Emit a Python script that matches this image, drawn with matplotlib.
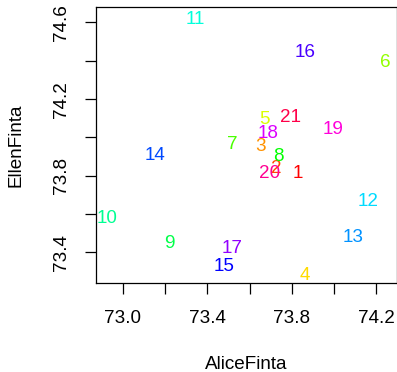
import matplotlib
matplotlib.use("Agg")
import matplotlib.pyplot as plt
from matplotlib.colors import hsv_to_rgb
import numpy as np

plt.rcParams['font.family'] = ['Liberation Sans', 'DejaVu Sans']

labels = [str(i) for i in range(1, 22)]
alice = [73.828, 73.727, 73.651, 73.860, 73.672, 74.243, 73.519, 73.736, 73.221, 72.927,
         73.344, 74.161, 74.092, 73.155, 73.480, 73.864, 73.519, 73.689, 73.994, 73.694, 73.796]
ellen = [73.824, 73.846, 73.963, 73.291, 74.103, 74.399, 73.975, 73.910, 73.455, 73.588,
         74.626, 73.673, 73.486, 73.918, 73.335, 74.452, 73.428, 74.033, 74.049, 73.822, 74.115]
xticks = [73.0, 73.2, 73.4, 73.6, 73.8, 74.0, 74.2]
xticklabels = ["73.0", "", "73.4", "", "73.8", "", "74.2"]
yticks = [73.4, 73.6, 73.8, 74.0, 74.2, 74.4, 74.6]
yticklabels = ["73.4", "", "73.8", "", "74.2", "", "74.6"]

n = len(labels)
colors = [hsv_to_rgb((i / n, 1.0, 1.0)) for i in range(n)]

W, H = 397, 372
fig = plt.figure(figsize=(W / 100, H / 100), dpi=100)
ax = fig.add_axes([96 / W, 1 - 283.3 / H, (396.7 - 96) / W, (283.3 - 7.3) / H])

FS = 13.6
for xi, yi, lab, c in zip(alice, ellen, labels, colors):
    ax.text(xi, yi, lab, color=c, fontsize=FS, ha='center', va='center_baseline')

def rlim(v):
    lo, hi = min(v), max(v)
    d = (hi - lo) * 0.04
    return lo - d, hi + d

ax.set_xlim(*rlim(alice))
ax.set_ylim(*rlim(ellen))
ax.set_xticks(xticks)
ax.set_xticklabels(xticklabels, fontsize=FS)
ax.set_yticks(yticks)
ax.set_yticklabels(yticklabels, fontsize=FS, rotation=90, va='center')
ax.tick_params(axis='both', length=8, width=0.9, pad=11, direction='out')
for s in ax.spines.values():
    s.set_linewidth(0.9)

fig.text(246 / W, 1 - 364.5 / H, "AliceFinta", ha='center', va='center', fontsize=FS)
fig.text(16 / W, 1 - 145 / H, "EllenFinta", ha='center', va='center', fontsize=FS, rotation=90)

fig.savefig("out.png", dpi=100)
